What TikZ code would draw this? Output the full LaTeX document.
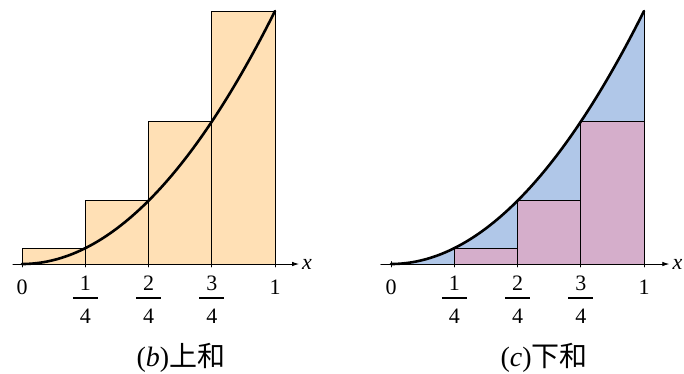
\documentclass[tikz,border=0pt]{standalone}
\usepackage{fontspec}
\setmainfont{Liberation Serif}
\newfontfamily\cjk{Noto Sans CJK SC}
\usetikzlibrary{arrows.meta}
\definecolor{upperfill}{RGB}{255,224,181}
\definecolor{areafill}{RGB}{176,199,232}
\definecolor{lowerfill}{RGB}{213,174,203}

\begin{document}
\begin{tikzpicture}[
  x=253pt,y=253pt,
  line cap=round,line join=round,
  curve/.style={line width=2.6pt},
  sumbox/.style={draw=black,line width=0.8pt},
  axis/.style={line width=0.8pt},
  ticklab/.style={font=\fontsize{22}{22}\selectfont,inner sep=0pt},
  fraclab/.style={font=\fontsize{22}{22}\selectfont,align=center,inner sep=0pt},
  xlab/.style={font=\fontsize{22}{22}\selectfont\itshape,anchor=west,inner sep=3pt},
  caption/.style={font=\fontsize{28}{28}\selectfont,inner sep=0pt},
  >={Latex[length=7pt,width=4.5pt]}
]
  \useasboundingbox (-0.0870,-0.4308) rectangle (2.6166,1.0435);

  % (b) upper sum
  \draw[sumbox,fill=upperfill] (0,0) rectangle (0.25,0.0625);
  \draw[sumbox,fill=upperfill] (0.25,0) rectangle (0.5,0.25);
  \draw[sumbox,fill=upperfill] (0.5,0) rectangle (0.75,0.5625);
  \draw[sumbox,fill=upperfill] (0.75,0) rectangle (1,1);
  \draw[curve] (0,0) .. controls (1/3,0) and (2/3,1/3) .. (1,1);

  % axis + ticks
  \coordinate (bxs) at (-0.036,0);
  \coordinate (bxe) at (1.095,0);
  \draw[axis,->] (bxs) -- (bxe);
  \draw[axis] (0,0.01) -- (0,-0.012) (0.25,0) -- (0.25,-0.012) (0.5,0) -- (0.5,-0.012)
    (0.75,0) -- (0.75,-0.012) (1,0) -- (1,-0.012);
  \node[xlab] (xb) at (bxe) {x};

  % tick labels
  \node[ticklab] (b0) at (0,-0.091) {0};
  \node[fraclab] (b1) at (0.25,-0.1413) {1\\[-13.75pt]\rule{25pt}{2pt}\\[2.75pt]4};
  \node[fraclab] (b2) at (0.5,-0.1413) {2\\[-13.75pt]\rule{25pt}{2pt}\\[2.75pt]4};
  \node[fraclab] (b3) at (0.75,-0.1413) {3\\[-13.75pt]\rule{25pt}{2pt}\\[2.75pt]4};
  \node[ticklab] (b4) at (1,-0.091) {1};
  \node[caption] (capb) at (0.628,-0.370) {(\textit{b}){\cjk 上和}};

  % (c) lower sum
  \begin{scope}[xshift=369pt]
    \fill[areafill] (0,0) .. controls (1/3,0) and (2/3,1/3) .. (1,1) -- (1,0) -- cycle;
    \draw[sumbox,fill=lowerfill] (0.25,0) rectangle (0.5,0.0625);
    \draw[sumbox,fill=lowerfill] (0.5,0) rectangle (0.75,0.25);
    \draw[sumbox,fill=lowerfill] (0.75,0) rectangle (1,0.5625);
    \draw[sumbox] (1,0.5625) -- (1,1);
    \draw[curve] (0,0) .. controls (1/3,0) and (2/3,1/3) .. (1,1);

    % axis + ticks
    \coordinate (cxs) at (-0.04,0);
    \coordinate (cxe) at (1.10,0);
    \draw[axis,->] (cxs) -- (cxe);
    \draw[axis] (0,0.01) -- (0,-0.012) (0.25,0) -- (0.25,-0.012) (0.5,0) -- (0.5,-0.012)
      (0.75,0) -- (0.75,-0.012) (1,0) -- (1,-0.012);
    \node[xlab] (xc) at (cxe) {x};

    % tick labels
    \node[ticklab] (c0) at (0,-0.091) {0};
    \node[fraclab] (c1) at (0.25,-0.1413) {1\\[-13.75pt]\rule{25pt}{2pt}\\[2.75pt]4};
    \node[fraclab] (c2) at (0.5,-0.1413) {2\\[-13.75pt]\rule{25pt}{2pt}\\[2.75pt]4};
    \node[fraclab] (c3) at (0.75,-0.1413) {3\\[-13.75pt]\rule{25pt}{2pt}\\[2.75pt]4};
    \node[ticklab] (c4) at (1,-0.091) {1};
    \node[caption] (capc) at (0.605,-0.370) {(\textit{c}){\cjk 下和}};
  \end{scope}
\end{tikzpicture}
\end{document}
